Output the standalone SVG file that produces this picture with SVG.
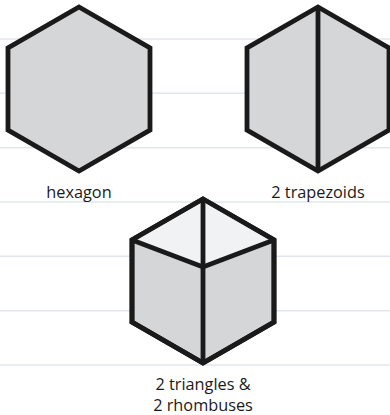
<svg xmlns="http://www.w3.org/2000/svg" width="390" height="415" viewBox="0 0 390 415">
<style>
.rule{stroke:#e1e7ee;stroke-width:1.5}
.shape{fill:#d5d6d8;stroke:#1a1a1a;stroke-width:4.8;stroke-linejoin:miter}
.top{fill:#f1f2f4;stroke:none}
.edge{fill:none;stroke:#1a1a1a;stroke-width:4.8;stroke-linecap:butt;stroke-linejoin:miter}
.lbl{font-family:"Open Sans","Noto Sans","DejaVu Sans",sans-serif;font-size:16.3px;fill:#1a1a1a;text-anchor:middle}
</style>
<rect width="390" height="415" fill="#ffffff"/>
<g id="rules">
<line class="rule" x1="0" y1="39" x2="390" y2="39"/>
<line class="rule" x1="0" y1="93.3" x2="390" y2="93.3"/>
<line class="rule" x1="0" y1="147.7" x2="390" y2="147.7"/>
<line class="rule" x1="0" y1="202" x2="390" y2="202"/>
<line class="rule" x1="0" y1="256.3" x2="390" y2="256.3"/>
<line class="rule" x1="0" y1="310.7" x2="390" y2="310.7"/>
<line class="rule" x1="0" y1="365" x2="390" y2="365"/>
</g>
<g id="hexagon">
<polygon class="shape" points="79,7 150,48 150,130 79,171 8,130 8,48"/>
<text class="lbl" x="79" y="198">hexagon</text>
</g>
<g id="trapezoids">
<polygon class="shape" points="318,7 389,48 389,130 318,171 247,130 247,48"/>
<line class="edge" x1="318" y1="7" x2="318" y2="171"/>
<text class="lbl" x="318" y="198">2 trapezoids</text>
</g>
<g id="cube">
<polygon class="shape" points="203,199 274,240 274,322 203,363 132,322 132,240"/>
<polygon class="top" points="203,201.5 271,240.5 203,265 135,240.5"/>
<polygon class="edge" points="203,199 274,240 274,322 203,363 132,322 132,240"/>
<polyline class="edge" points="132,240 203,267 274,240"/>
<line class="edge" x1="203" y1="199" x2="203" y2="363"/>
<text class="lbl" x="203" y="390">2 triangles &amp;</text>
<text class="lbl" x="203" y="411">2 rhombuses</text>
</g>
</svg>
